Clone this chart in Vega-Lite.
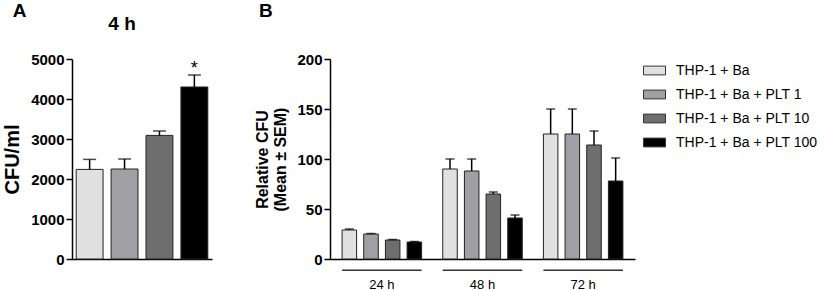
{
  "$schema": "https://vega.github.io/schema/vega-lite/v6.json",
  "padding": {"left": 2, "top": 2, "right": 5, "bottom": 0},
  "config": {
    "font": "Liberation Sans",
    "view": {"stroke": null},
    "axis": {"domainColor": "#000", "tickColor": "#000", "labelColor": "#000", "titleColor": "#000", "domainWidth": 1.5, "tickWidth": 1.5, "grid": false, "labelOverlap": false},
    "axisY": {"labelFontSize": 15, "labelFontWeight": "bold", "titleFontSize": 16, "titleFontWeight": "bold", "tickSize": 6, "titlePadding": 8, "labelOverlap": false},
    "axisX": {"labelFontSize": 13, "labelColor": "#000"},
    "legend": {"labelFont": "Liberation Sans", "labelFontSize": 14, "labelColor": "#000", "symbolType": "M-1,-0.4H1V0.4H-1Z", "symbolSize": 484, "symbolStrokeColor": "#333", "symbolStrokeWidth": 1, "rowPadding": 5, "labelOffset": 10, "offset": 8}
  },
  "datasets": {
    "a": [
      {"group": "THP-1 + Ba", "mean": 2240, "err": 2490, "sig": ""},
      {"group": "THP-1 + Ba + PLT 1", "mean": 2250, "err": 2500, "sig": ""},
      {"group": "THP-1 + Ba + PLT 10", "mean": 3090, "err": 3200, "sig": ""},
      {"group": "THP-1 + Ba + PLT 100", "mean": 4300, "err": 4600, "sig": "*"}
    ],
    "b": [
      {"time": "24 h", "group": "THP-1 + Ba", "mean": 29, "err": 30},
      {"time": "24 h", "group": "THP-1 + Ba + PLT 1", "mean": 25, "err": 25.5},
      {"time": "24 h", "group": "THP-1 + Ba + PLT 10", "mean": 19, "err": 19.5},
      {"time": "24 h", "group": "THP-1 + Ba + PLT 100", "mean": 17, "err": 17.5},
      {"time": "48 h", "group": "THP-1 + Ba", "mean": 90, "err": 100},
      {"time": "48 h", "group": "THP-1 + Ba + PLT 1", "mean": 88, "err": 100},
      {"time": "48 h", "group": "THP-1 + Ba + PLT 10", "mean": 65, "err": 67},
      {"time": "48 h", "group": "THP-1 + Ba + PLT 100", "mean": 41, "err": 44},
      {"time": "72 h", "group": "THP-1 + Ba", "mean": 125, "err": 150},
      {"time": "72 h", "group": "THP-1 + Ba + PLT 1", "mean": 125, "err": 150},
      {"time": "72 h", "group": "THP-1 + Ba + PLT 10", "mean": 114, "err": 128},
      {"time": "72 h", "group": "THP-1 + Ba + PLT 100", "mean": 78, "err": 101}
    ],
    "t": [{"time": "24 h"}, {"time": "48 h"}, {"time": "72 h"}]
  },
  "spacing": 42,
  "hconcat": [
    {
      "title": {"text": "A", "anchor": "start", "frame": "bounds", "fontSize": 19, "fontWeight": "bold", "offset": -6, "color": "#000", "dx": 10},
      "vconcat": [
        {
          "title": {"text": "4 h", "anchor": "middle", "frame": "group", "fontSize": 19, "fontWeight": "bold", "offset": 18, "color": "#000", "dx": -20},
          "width": 140,
          "height": 200,
          "data": {"name": "a"},
          "resolve": {"axis": {"y": "independent"}},
          "encoding": {
            "x": {"field": "group", "type": "nominal", "sort": null, "scale": {"paddingInner": 0.23, "paddingOuter": 0.12}, "axis": {"labels": false, "ticks": false, "title": null}}
          },
          "layer": [
            {"mark": {"type": "bar", "stroke": "#222", "strokeWidth": 1}, "encoding": {
              "y": {"field": "mean", "type": "quantitative", "scale": {"domain": [0, 5000]}, "axis": {"orient": "left", "values": [0, 1000, 2000, 3000, 4000, 5000], "format": "d", "title": "CFU/ml", "titleFontSize": 20}},
              "color": {"field": "group", "type": "nominal", "sort": null, "scale": {"domain": ["THP-1 + Ba", "THP-1 + Ba + PLT 1", "THP-1 + Ba + PLT 10", "THP-1 + Ba + PLT 100"], "range": ["#e0e0e0", "#a0a0a4", "#6e6e6e", "#000000"]}, "legend": {"title": null}}
            }},
            {"mark": {"type": "rule", "color": "#000", "strokeWidth": 1.5}, "encoding": {"y": {"field": "mean", "type": "quantitative", "axis": null}, "y2": {"field": "err"}}},
            {"mark": {"type": "tick", "color": "#000", "size": 13, "thickness": 1.5}, "encoding": {"y": {"field": "err", "type": "quantitative", "axis": null}}},
            {"mark": {"type": "text", "fontSize": 18, "baseline": "bottom", "dy": 3, "color": "#000"}, "encoding": {"y": {"field": "err", "type": "quantitative", "axis": null}, "text": {"field": "sig"}}}
          ]
        }
      ]
    },
    {
      "title": {"text": "B", "anchor": "start", "frame": "bounds", "fontSize": 19, "fontWeight": "bold", "offset": -6, "color": "#000", "dx": 4},
      "vconcat": [
        {
          "title": {"text": " ", "fontSize": 19, "fontWeight": "bold", "offset": 18},
          "width": 305,
          "height": 200,
          "resolve": {"axis": {"x": "independent", "y": "independent"}},
          "layer": [
            {
              "data": {"name": "b"},
              "resolve": {"axis": {"y": "independent"}},
              "encoding": {
                "x": {"field": "time", "type": "nominal", "scale": {"paddingInner": 0.21, "paddingOuter": 0.12}, "axis": {"title": null, "ticks": false, "labelAngle": 0, "labelPadding": 19}},
                "xOffset": {"field": "group", "type": "nominal", "sort": null, "scale": {"paddingInner": 0.33, "paddingOuter": 0}}
              },
              "layer": [
                {"mark": {"type": "bar", "stroke": "#222", "strokeWidth": 1}, "encoding": {
                  "y": {"field": "mean", "type": "quantitative", "scale": {"domain": [0, 200]}, "axis": {"orient": "left", "values": [0, 50, 100, 150, 200], "title": ["Relative CFU", "(Mean ± SEM)"]}},
                  "color": {"field": "group", "type": "nominal", "sort": null}
                }},
                {"mark": {"type": "rule", "color": "#000", "strokeWidth": 1.5}, "encoding": {"y": {"field": "mean", "type": "quantitative", "axis": null}, "y2": {"field": "err"}}},
                {"mark": {"type": "tick", "color": "#000", "size": 9, "thickness": 1.5}, "encoding": {"y": {"field": "err", "type": "quantitative", "axis": null}}}
              ]
            },
            {
              "data": {"name": "t"},
              "mark": {"type": "bar", "color": "#333"},
              "encoding": {
                "x": {"field": "time", "type": "nominal", "axis": null},
                "y": {"datum": -10.5, "type": "quantitative", "axis": null},
                "y2": {"datum": -12}
              }
            }
          ]
        }
      ]
    }
  ]
}
